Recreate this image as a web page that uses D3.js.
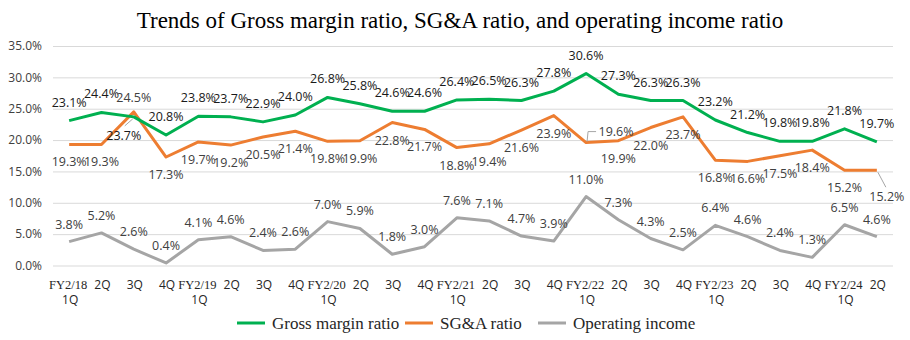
<!DOCTYPE html>
<html>
<head>
<meta charset="utf-8">
<script src="https://cdn.jsdelivr.net/npm/d3@7"></script>
<style>
  body { margin: 0; background: #fff; }
  svg { display: block; }
</style>
</head>
<body>
<div id="vis"></div>
<script>
var W = 910, H = 340;
var margin = { top: 46, right: 17, bottom: 74.5, left: 53 },
    width = W - margin.left - margin.right,
    height = H - margin.top - margin.bottom;

// quarters, first line / second line of the axis label
const quarters = [
    ["FY2/18", "1Q"], ["2Q"], ["3Q"], ["4Q"],
    ["FY2/19", "1Q"], ["2Q"], ["3Q"], ["4Q"],
    ["FY2/20", "1Q"], ["2Q"], ["3Q"], ["4Q"],
    ["FY2/21", "1Q"], ["2Q"], ["3Q"], ["4Q"],
    ["FY2/22", "1Q"], ["2Q"], ["3Q"], ["4Q"],
    ["FY2/23", "1Q"], ["2Q"], ["3Q"], ["4Q"],
    ["FY2/24", "1Q"], ["2Q"]
];

const grossMargin = [23.1, 24.4, 23.7, 20.8, 23.8, 23.7, 22.9, 24.0, 26.8, 25.8, 24.6, 24.6, 26.4,
    26.5, 26.3, 27.8, 30.6, 27.3, 26.3, 26.3, 23.2, 21.2, 19.8, 19.8, 21.8, 19.7];
const sgaRatio = [19.3, 19.3, 24.5, 17.3, 19.7, 19.2, 20.5, 21.4, 19.8, 19.9, 22.8, 21.7, 18.8,
    19.4, 21.6, 23.9, 19.6, 19.9, 22.0, 23.7, 16.8, 16.6, 17.5, 18.4, 15.2, 15.2];
const operatingIncome = [3.8, 5.2, 2.6, 0.4, 4.1, 4.6, 2.4, 2.6, 7.0, 5.9, 1.8, 3.0, 7.6,
    7.1, 4.7, 3.9, 11.0, 7.3, 4.3, 2.5, 6.4, 4.6, 2.4, 1.3, 6.5, 4.6];

const yTicks = [0, 5, 10, 15, 20, 25, 30, 35];

const series = [
    { name: "Gross margin ratio", values: grossMargin, color: "#00B050", labelDy: -14, labelColor: "#1a1a1a" },
    { name: "SG&A ratio", values: sgaRatio, color: "#ED7D31", labelDy: 22, labelColor: "#404040" },
    { name: "Operating income", values: operatingIncome, color: "#A5A5A5", labelDy: -13, labelColor: "#404040" }
];

// labels that were dragged away from their default spot (series index, point index)
const moved = {
    "0-2": { dx: -10, dy: 23, leader: true },
    "1-2": { dx: 0, dy: -10 },
    "1-16": { dx: 30, dy: -7, leader: "bracket" },
    "1-25": { dx: 10, dy: 31, leader: true }
};

const svg = d3.select("#vis")
    .append("svg")
    .attr("width", W)
    .attr("height", H);

svg.append("text")
    .attr("x", W / 2 + 5)
    .attr("y", 28)
    .attr("text-anchor", "middle")
    .style("font-family", "'Liberation Serif', 'Times New Roman', serif")
    .style("font-size", "23px")
    .style("fill", "#000")
    .text("Trends of Gross margin ratio, SG&A ratio, and operating income ratio");

const g = svg.append("g")
    .attr("transform", `translate(${margin.left}, ${margin.top})`);

const x = d3.scaleBand()
    .domain(d3.range(quarters.length))
    .range([0, width])
    .padding(0);

const y = d3.scaleLinear()
    .domain([0, 35])
    .range([height, 0]);

const cx = i => x(i) + x.bandwidth() / 2;

// y axis with gridlines
const yAxis = g.append("g")
    .call(d3.axisLeft(y)
        .tickValues(yTicks)
        .tickSize(-width)
        .tickPadding(11)
        .tickFormat(d => d.toFixed(1) + "%"));
yAxis.select(".domain").remove();
yAxis.selectAll(".tick line").attr("stroke", "#d9d9d9").attr("stroke-width", 1);
yAxis.selectAll(".tick text")
    .style("font-family", "'Open Sans', 'Liberation Sans', sans-serif")
    .style("font-size", "12px")
    .style("fill", "#404040");

// x axis labels
const xl = g.append("g").attr("transform", `translate(0, ${height})`);
quarters.forEach((q, i) => {
    q.forEach((line, k) => {
        xl.append("text")
            .attr("x", cx(i) + (line.startsWith("FY") ? -1 : 1))
            .attr("y", 23.5 + k * 15)
            .attr("text-anchor", "middle")
            .style("font-family", line.startsWith("FY")
                ? "'Liberation Serif', 'Times New Roman', serif"
                : "'Open Sans', 'Liberation Sans', sans-serif")
            .style("font-size", line.startsWith("FY") ? "12.5px" : "12px")
            .style("fill", "#262626")
            .text(line);
    });
});

const line = d3.line()
    .x((d, i) => cx(i))
    .y(d => y(d));

// draw operating income first so the others sit over it
[2, 1, 0].forEach(si => {
    const s = series[si];
    g.append("path")
        .datum(s.values)
        .attr("fill", "none")
        .attr("stroke", s.color)
        .attr("stroke-width", 3)
        .attr("stroke-linejoin", "round")
        .attr("d", line);
});

// data labels
series.forEach((s, si) => {
    s.values.forEach((v, i) => {
        const m = moved[si + "-" + i];
        const px = cx(i), py = y(v);
        let tx = px, ty = py + s.labelDy;
        if (m) {
            tx = px + m.dx;
            ty = py + m.dy;
            if (m.leader === "bracket") {
                g.append("path")
                    .attr("d", `M${px + 1},${py - 1}L${px + 2},${py - 11}L${px + 10},${py - 11}`)
                    .attr("fill", "none")
                    .attr("stroke", "#a6a6a6")
                    .attr("stroke-width", 1);
            } else if (m.leader) {
                g.append("line")
                    .attr("x1", px + (m.dx > 0 ? 1 : -1)).attr("y1", py + 2)
                    .attr("x2", px + m.dx * 0.9).attr("y2", py + m.dy - 14)
                    .attr("stroke", "#a6a6a6")
                    .attr("stroke-width", 1);
            }
        }
        g.append("text")
            .attr("x", tx)
            .attr("y", ty)
            .attr("text-anchor", "middle")
            .style("font-family", "'Open Sans', 'Liberation Sans', sans-serif")
            .style("font-size", "12.5px")
            .style("fill", s.labelColor)
            .text(v.toFixed(1) + "%");
    });
});

// legend
const legendX = [237, 405, 538];
const legend = svg.append("g").attr("transform", "translate(0, 323)");
series.forEach((s, si) => {
    legend.append("line")
        .attr("x1", legendX[si]).attr("x2", legendX[si] + 28)
        .attr("y1", 0).attr("y2", 0)
        .attr("stroke", s.color)
        .attr("stroke-width", 3);
    legend.append("text")
        .attr("x", legendX[si] + 35)
        .attr("y", 6)
        .style("font-family", "'Liberation Serif', 'Times New Roman', serif")
        .style("font-size", "17px")
        .style("fill", "#262626")
        .text(s.name);
});
</script>
</body>
</html>
